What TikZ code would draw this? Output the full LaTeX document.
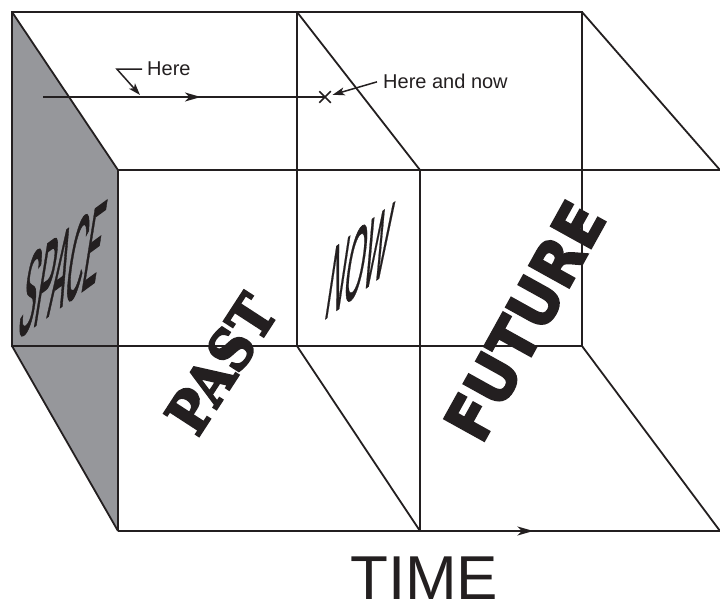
\documentclass[tikz,border=0pt]{standalone}
\usepackage{fontspec}
\setmainfont{Liberation Sans}
\newfontfamily\spacefont[FakeBold=1.5]{Liberation Sans}
\newfontfamily\nowfont[FakeBold=0.8]{Liberation Sans}
\newfontfamily\pastfont[BoldFeatures={FakeBold=4}]{DejaVu Serif}
\newfontfamily\futurefont[BoldFeatures={FakeBold=3}]{DejaVu Sans}
\usetikzlibrary{arrows.meta,decorations.markings,shapes.misc}
\definecolor{ink}{RGB}{35,31,32}
\definecolor{sideface}{RGB}{150,151,155}

\begin{document}
\begin{tikzpicture}[x=1pt,y=-1pt,
edge/.style={draw=ink, line width=1.8pt},
midarrow/.style={postaction={decorate}, decoration={markings,
  mark=at position #1 with {\arrow{Stealth[length=16pt,width=9pt,inset=4.5pt]}}}},
pointer/.style={draw=ink, line width=1.5pt, -{Stealth[length=12pt,width=8pt,inset=3pt]}},
smalltext/.style={text=ink, inner sep=0pt, font=\fontsize{20}{24}\selectfont},
]
\useasboundingbox (0,0) rectangle (720,604);

\coordinate (b1) at (12,12);
\coordinate (b2) at (297,12);
\coordinate (b3) at (582,12);
\coordinate (b4) at (12,346);
\coordinate (b5) at (297,346);
\coordinate (b6) at (582,346);
\coordinate (f1) at (118,170);
\coordinate (f2) at (420,170);
\coordinate (f3) at (720,170);
\coordinate (f4) at (118,531);
\coordinate (f5) at (420,531);
\coordinate (f6) at (720,531);

\fill[sideface] (b1) -- (f1) -- (f4) -- (b4) -- cycle;
\draw[edge] (b1) -- (b3) -- (b6) -- (b4) -- cycle;
\draw[edge] (b2) -- (b5);
\draw[edge] (f1) -- (f3);
\draw[edge] (f1) -- (f4);
\draw[edge] (f2) -- (f5);
\draw[edge, midarrow=0.69] (f4) -- (f6);
\draw[edge] (b1) -- (f1);
\draw[edge] (b2) -- (f2);
\draw[edge] (b3) -- (f3);
\draw[edge] (b4) -- (f4);
\draw[edge] (b5) -- (f5);
\draw[edge] (b6) -- (f6);

\coordinate (start) at (43,97);
\node[cross out, draw=ink, line width=1.5pt, minimum size=10pt, inner sep=0pt] (hn) at (325,97) {};
\draw[edge, midarrow=0.56] (start) -- (hn.center);

\node[smalltext, anchor=base west] (here) at (147,76) {Here};
\coordinate (onpath) at (140,95);
\draw[pointer] ([xshift=-5pt]here.west) -- ++(-25,0) -- (onpath);

\node[smalltext, anchor=base west] (hnlabel) at (383,89) {Here and now};
\draw[pointer, shorten >=2pt] ([xshift=-6pt]hnlabel.west) -- (hn);

\node[text=ink, inner sep=0pt, anchor=base west, cm={1.2,0.88,0.95,6.0,(0,0)}] (space) at (16,340)
  {\spacefont\fontsize{20}{24}\selectfont SPACE};
\node[text=ink, inner sep=0pt, anchor=base west, cm={1.25,0.95,0.8,5.3,(0,0)}] (now) at (323,321)
  {\nowfont\fontsize{20}{24}\selectfont NOW};

\node[text=ink, inner sep=0pt, rotate=57] (past) at (221,364)
  {\pastfont\bfseries\fontsize{57}{57}\selectfont\scalebox{0.9}[1]{PAST}};
\node[text=ink, inner sep=0pt, rotate=61] (future) at (525,321)
  {\futurefont\bfseries\fontsize{63}{63}\selectfont\scalebox{0.93}[1]{FUTURE}};

\node[text=ink, inner sep=0pt, anchor=base west, font=\fontsize{62}{62}\selectfont] (time) at (350,599) {TIME};
\end{tikzpicture}
\end{document}
